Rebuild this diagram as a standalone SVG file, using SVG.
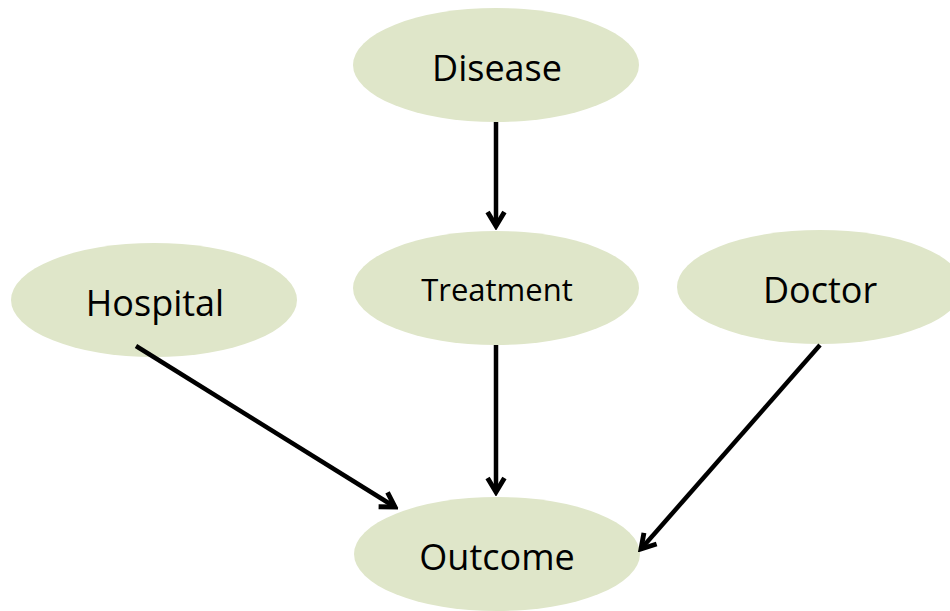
<svg xmlns="http://www.w3.org/2000/svg" width="950" height="611" viewBox="0 0 950 611">
<style>
.node{fill:#dfe6c9}
.lbl{font-family:"Open Sans","Noto Sans","Liberation Sans",sans-serif;fill:#000;text-anchor:middle}
.edge{stroke:#000;stroke-width:4.5;fill:none}
</style>
<defs>
<marker id="arr" viewBox="0 0 12 12" refX="10" refY="6" markerWidth="5" markerHeight="5" markerUnits="strokeWidth" orient="auto">
<path d="M2.5,1.5 L10,6 L2.5,10.5" fill="none" stroke="#000" stroke-width="2.6" stroke-linejoin="miter"/>
</marker>
</defs>
<rect width="950" height="611" fill="#fff"/>
<g id="disease"><ellipse class="node" cx="496" cy="65" rx="143" ry="57"/><text class="lbl" x="497" y="81" font-size="36">Disease</text></g>
<g id="treatment"><ellipse class="node" cx="496" cy="288" rx="143" ry="57"/><text class="lbl" x="497" y="301" font-size="31">Treatment</text></g>
<g id="hospital"><ellipse class="node" cx="154" cy="300" rx="143" ry="57"/><text class="lbl" x="155" y="316" font-size="36">Hospital</text></g>
<g id="doctor"><ellipse class="node" cx="820" cy="287" rx="143" ry="57"/><text class="lbl" x="820" y="303" font-size="36">Doctor</text></g>
<g id="outcome"><ellipse class="node" cx="497" cy="554" rx="143" ry="57"/><text class="lbl" x="497" y="570" font-size="36">Outcome</text></g>
<g id="connectors">
<line class="edge" x1="496" y1="122" x2="496" y2="226" marker-end="url(#arr)"/>
<line class="edge" x1="496" y1="345" x2="496" y2="492" marker-end="url(#arr)"/>
<line class="edge" x1="136" y1="346" x2="395" y2="507" marker-end="url(#arr)"/>
<line class="edge" x1="820" y1="345" x2="641" y2="549" marker-end="url(#arr)"/>
</g>
</svg>
